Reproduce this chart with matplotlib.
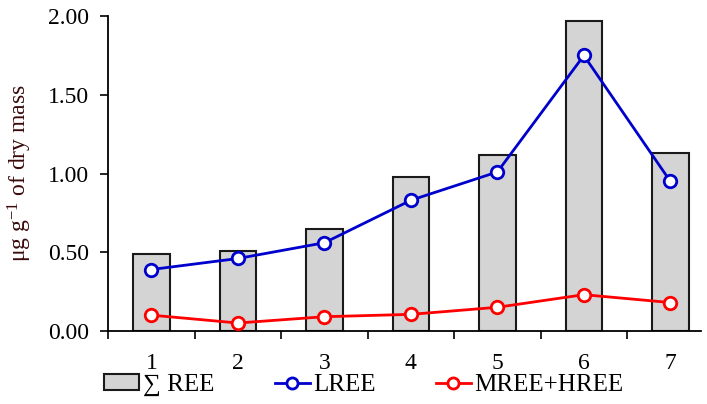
import numpy as np
import matplotlib
matplotlib.use("Agg")
import matplotlib.pyplot as plt
from matplotlib.patches import Patch
from matplotlib.lines import Line2D

plt.rcParams['font.family'] = 'Liberation Serif'
plt.rcParams['mathtext.fontset'] = 'custom'
plt.rcParams['mathtext.rm'] = 'Liberation Serif'
plt.rcParams['mathtext.it'] = 'Liberation Serif:italic'

# data
sites = [1, 2, 3, 4, 5, 6, 7]
sum_ree = [0.49, 0.51, 0.65, 0.98, 1.12, 1.97, 1.13]
lree = [0.39, 0.46, 0.56, 0.83, 1.01, 1.75, 0.95]
mree_hree = [0.10, 0.05, 0.09, 0.105, 0.15, 0.23, 0.18]
yticks = [0.0, 0.5, 1.0, 1.5, 2.0]

fig = plt.figure(figsize=(7.07, 4.04), dpi=100)
ax = fig.add_axes([0.153, 0.181, 0.838, 0.779])

x = np.array(sites)
ax.bar(x, sum_ree, width=0.42, color='#d4d4d4', edgecolor='#1a1a1a', linewidth=1.5, zorder=1)
ax.plot(x, lree, color='#0000cc', lw=2, marker='o', ms=9, mfc='white', mec='#0000cc', mew=2, zorder=3)
ax.plot(x, mree_hree, color='#ff0000', lw=2, marker='o', ms=9, mfc='white', mec='#ff0000', mew=2, zorder=3)

ax.set_xlim(0.5, 7.35)
ax.set_ylim(0, 2.0)
ax.set_yticks(yticks)
ax.set_yticklabels([f'{v:.2f}' for v in yticks], fontsize=17)

# ticks between categories, labels at categories
ax.set_xticks(np.arange(0.5, 7.5, 1.0))
ax.set_xticklabels([])
ax.set_xticks(x, minor=True)
ax.set_xticklabels([str(s) for s in sites], minor=True, fontsize=17)
ax.tick_params(axis='x', which='minor', length=0, pad=16)
ax.tick_params(axis='x', which='major', length=6, width=1.2, direction='out')
ax.tick_params(axis='y', length=6, width=1.2, direction='out', pad=8)

ax.spines['top'].set_visible(False)
ax.spines['right'].set_visible(False)
ax.spines['left'].set_linewidth(1.3)
ax.spines['bottom'].set_linewidth(1.3)

ax.set_ylabel('\u03bcg g$^{\\mathrm{-1}}$ of dry mass', fontsize=17, color='#3a0a0a', labelpad=10)

handles = [
    Patch(facecolor='#d4d4d4', edgecolor='#1a1a1a', linewidth=1.5),
    Line2D([], [], color='#0000cc', lw=2, marker='o', ms=8, mfc='white', mec='#0000cc', mew=2),
    Line2D([], [], color='#ff0000', lw=2, marker='o', ms=8, mfc='white', mec='#ff0000', mew=2),
]
fig.legend(handles, ['\u2211 REE', 'LREE', 'MREE+HREE'], loc='center', bbox_to_anchor=(0.515, 0.047),
           ncol=3, frameon=False, fontsize=18, handlelength=1.4, handleheight=0.6,
           handletextpad=0.15, columnspacing=2.4)

fig.savefig('out.png', dpi=100)
